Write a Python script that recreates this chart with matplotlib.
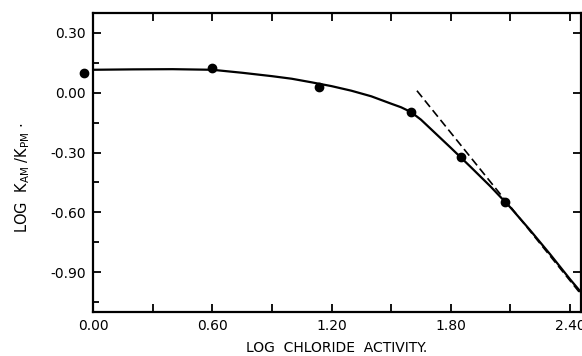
import matplotlib
matplotlib.use("Agg")
import matplotlib.pyplot as plt
from matplotlib.ticker import MultipleLocator, FuncFormatter

plt.rcParams['font.family'] = ['DejaVu Sans']
plt.rcParams['axes.unicode_minus'] = False

# measured data points
pts_x = [-0.045, 0.60, 1.135, 1.60, 1.85, 2.075]
pts_y = [0.10, 0.125, 0.03, -0.095, -0.325, -0.55]

# hand-drawn fitted curve
curve_x = [0.0, 0.2, 0.4, 0.6, 0.75, 0.9, 1.0, 1.1, 1.2, 1.3, 1.4, 1.5, 1.55,
           1.6, 1.65, 1.7, 1.8, 1.9, 2.0, 2.1, 2.2, 2.3, 2.4, 2.455]
curve_y = [0.115, 0.117, 0.118, 0.115, 0.10, 0.083, 0.07, 0.052, 0.033, 0.01,
           -0.018, -0.055, -0.073, -0.097, -0.135, -0.182, -0.276, -0.372,
           -0.47, -0.575, -0.69, -0.81, -0.935, -1.0]

# limiting slope (dashed)
dash_x = [1.63, 2.455]
dash_y = [0.01, -1.01]

fig = plt.figure(figsize=(5.82, 3.56), dpi=100)
ax = fig.add_axes([0.16, 0.1236, 0.838, 0.84])

ax.plot(curve_x, curve_y, color='black', lw=1.6, solid_capstyle='round',
        solid_joinstyle='round')
ax.plot(dash_x, dash_y, color='black', lw=1.2, dashes=(5, 2.5))
ax.plot(pts_x, pts_y, 'o', color='black', ms=6, clip_on=False, zorder=5)

ax.set_xlim(0.0, 2.455)
ax.set_ylim(-1.10, 0.40)

ax.xaxis.set_major_locator(MultipleLocator(0.3))
ax.yaxis.set_major_locator(MultipleLocator(0.3))
ax.yaxis.set_minor_locator(MultipleLocator(0.15))

def xfmt(v, pos):
    k = round(v / 0.3)
    if k % 2 == 0 and k >= 0:
        return "%.2f" % v
    return ""

def yfmt(v, pos):
    s = "%.2f" % v
    if s == "-0.00":
        s = "0.00"
    return s

ax.xaxis.set_major_formatter(FuncFormatter(xfmt))
ax.yaxis.set_major_formatter(FuncFormatter(yfmt))

ax.tick_params(which='both', direction='in', top=True, right=True,
               width=1.3, labelsize=10, pad=5)
ax.tick_params(which='major', length=6)
ax.tick_params(which='minor', length=4, right=False)

for s in ax.spines.values():
    s.set_linewidth(1.6)

ax.set_xlabel('LOG  CHLORIDE  ACTIVITY.', fontsize=10, labelpad=6)
ax.set_ylabel(r'LOG  K$_{\mathrm{AM}}$ /K$_{\mathrm{PM}}$ $\cdot$', fontsize=10.5,
              labelpad=8)
ax.yaxis.set_label_coords(-0.125, 0.45)

fig.savefig('out.png', dpi=100)
